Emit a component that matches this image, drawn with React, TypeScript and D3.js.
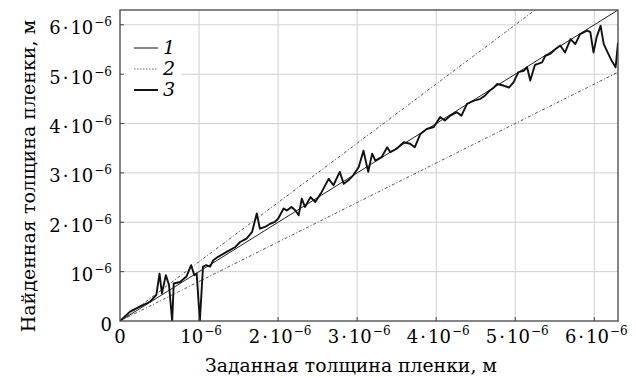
import React from "react";
import * as d3 from "d3";

const W = 636;
const H = 378;
const M = { left: 120, right: 18, top: 10, bottom: 57 };
const DOMAIN_MAX = 6.3e-6;

const tickValues = [0, 1e-6, 2e-6, 3e-6, 4e-6, 5e-6, 6e-6];
const tickMantissa = ["0", "", "2", "3", "4", "5", "6"];

const refSlopes = [1.2, 0.8];

// measured (line 3), in micrometres
const measX = [0, 0.127, 0.25, 0.38, 0.46, 0.5, 0.53, 0.58, 0.62, 0.66, 0.68, 0.76, 0.84, 0.9, 0.94, 0.97, 1.01, 1.05, 1.09, 1.14, 1.18, 1.24, 1.35, 1.46, 1.52, 1.6, 1.67, 1.73, 1.77, 1.84, 1.9, 1.96, 2.0, 2.07, 2.11, 2.17, 2.22, 2.26, 2.3, 2.34, 2.41, 2.47, 2.55, 2.64, 2.7, 2.78, 2.83, 2.89, 2.95, 3.02, 3.08, 3.14, 3.19, 3.23, 3.31, 3.38, 3.42, 3.5, 3.59, 3.67, 3.73, 3.8, 3.88, 3.97, 4.05, 4.11, 4.18, 4.26, 4.32, 4.39, 4.47, 4.56, 4.62, 4.68, 4.73, 4.77, 4.85, 4.92, 4.98, 5.04, 5.11, 5.15, 5.19, 5.25, 5.34, 5.38, 5.44, 5.51, 5.57, 5.63, 5.7, 5.76, 5.82, 5.91, 5.95, 5.99, 6.03, 6.08, 6.12, 6.16, 6.22, 6.27, 6.3];
const measY = [0, 0.19, 0.29, 0.39, 0.53, 0.96, 0.56, 0.93, 0.73, 0, 0.76, 0.79, 0.9, 1.13, 0.93, 0.96, 0, 1.1, 1.13, 1.1, 1.23, 1.3, 1.4, 1.5, 1.6, 1.67, 1.8, 2.18, 1.87, 1.91, 1.97, 2.01, 2.07, 2.28, 2.24, 2.31, 2.24, 2.14, 2.48, 2.31, 2.51, 2.41, 2.61, 2.88, 2.75, 3.02, 2.78, 2.85, 2.95, 3.12, 3.45, 3.02, 3.39, 3.25, 3.32, 3.52, 3.42, 3.49, 3.62, 3.59, 3.52, 3.79, 3.89, 3.93, 4.13, 4.06, 4.16, 4.23, 4.16, 4.4, 4.46, 4.5, 4.57, 4.67, 4.73, 4.8, 4.77, 4.73, 4.84, 5.04, 5.07, 5.14, 4.87, 5.19, 5.24, 5.37, 5.41, 5.51, 5.58, 5.44, 5.71, 5.61, 5.81, 5.88, 5.85, 5.44, 5.75, 5.98, 5.61, 5.47, 5.27, 5.14, 5.64];

const legendLabels = ["1", "2", "3"];

const serif = "DejaVu Serif";

function TickLabel({ i }: { i: number }) {
  const m = tickMantissa[i];
  if (i === 0) return <tspan>0</tspan>;
  return (
    <>
      {m ? <tspan>{m}</tspan> : null}
      {m ? <tspan dx="2">·</tspan> : null}
      <tspan dx={m ? "2" : "0"}>10</tspan>
      <tspan dx="1" dy="-8" fontSize="12">−6</tspan>
    </>
  );
}

export default function App() {
  const x = d3.scaleLinear().domain([0, DOMAIN_MAX]).range([M.left, W - M.right]);
  const y = d3.scaleLinear().domain([0, DOMAIN_MAX]).range([H - M.bottom, M.top]);
  const x0 = M.left, x1 = W - M.right, y0 = H - M.bottom, y1 = M.top;

  const meas = measX.map((v, i) => [v * 1e-6, measY[i] * 1e-6] as [number, number]);
  const line = d3.line<[number, number]>().x((d) => x(d[0])).y((d) => y(d[1]));

  const refLine = (k: number): [number, number][] => {
    const xe = Math.min(DOMAIN_MAX, DOMAIN_MAX / k);
    return [[0, 0], [xe, k * xe]];
  };

  return (
    <svg width={W} height={H} style={{ position: "absolute", left: 0, top: 0, background: "#fff", fontFamily: serif }}>
      <defs>
        <clipPath id="plot">
          <rect x={x0} y={y1} width={x1 - x0} height={y0 - y1} />
        </clipPath>
      </defs>
      {tickValues.slice(1).map((t) => (
        <line key={"gx" + t} x1={x(t)} x2={x(t)} y1={y0} y2={y1} stroke="#d0d0d0" strokeWidth={1} />
      ))}
      {tickValues.slice(1).map((t) => (
        <line key={"gy" + t} x1={x0} x2={x1} y1={y(t)} y2={y(t)} stroke="#d0d0d0" strokeWidth={1} />
      ))}
      <rect x={x0 + 1} y={34} width={60} height={66} fill="#fff" />
      <g clipPath="url(#plot)">
        {refSlopes.map((k) => (
          <path key={k} d={line(refLine(k)) || ""} fill="none" stroke="#555" strokeWidth={1} strokeDasharray="3,2,1,2" />
        ))}
        <path d={line([[0, 0], [DOMAIN_MAX, DOMAIN_MAX]]) || ""} fill="none" stroke="#222" strokeWidth={1} />
        <path d={line(meas) || ""} fill="none" stroke="#111" strokeWidth={1.9} strokeLinejoin="round" />
      </g>
      {tickValues.slice(1).map((t) => (
        <g key={"t" + t}>
          <line x1={x(t)} x2={x(t)} y1={y0} y2={y0 - 4} stroke="#444" />
          <line x1={x0} x2={x0 + 4} y1={y(t)} y2={y(t)} stroke="#444" />
        </g>
      ))}
      <rect x={x0} y={y1} width={x1 - x0} height={y0 - y1} fill="none" stroke="#444" strokeWidth={1.3} />
      {legendLabels.map((l, i) => {
        const ly = 48 + i * 21;
        return (
          <g key={l}>
            <line x1={134} x2={158} y1={ly} y2={ly}
              stroke={i === 1 ? "#666" : "#111"}
              strokeWidth={i === 2 ? 2 : 1}
              strokeDasharray={i === 1 ? "1.5,1.5" : undefined} />
            <text x={163} y={ly + 6} fontStyle="italic" fontSize={19}>{l}</text>
          </g>
        );
      })}
      {tickValues.map((t, i) => (
        <text key={"yl" + t} x={112} y={y(t) + 9.5} textAnchor="end" fontSize={18}>
          <TickLabel i={i} />
        </text>
      ))}
      {tickValues.map((t, i) => (
        <text key={"xl" + t} x={x(t) + (i === 0 ? 0 : 2)} y={y0 + 22} textAnchor="middle" fontSize={18}>
          <TickLabel i={i} />
        </text>
      ))}
      <text x={351} y={372} textAnchor="middle" fontSize={18.8}>
        Заданная толщина пленки, м
      </text>
      <text transform={`translate(35, 176) rotate(-90)`} textAnchor="middle" fontSize={19}>
        Найденная толщина пленки, м
      </text>
    </svg>
  );
}
